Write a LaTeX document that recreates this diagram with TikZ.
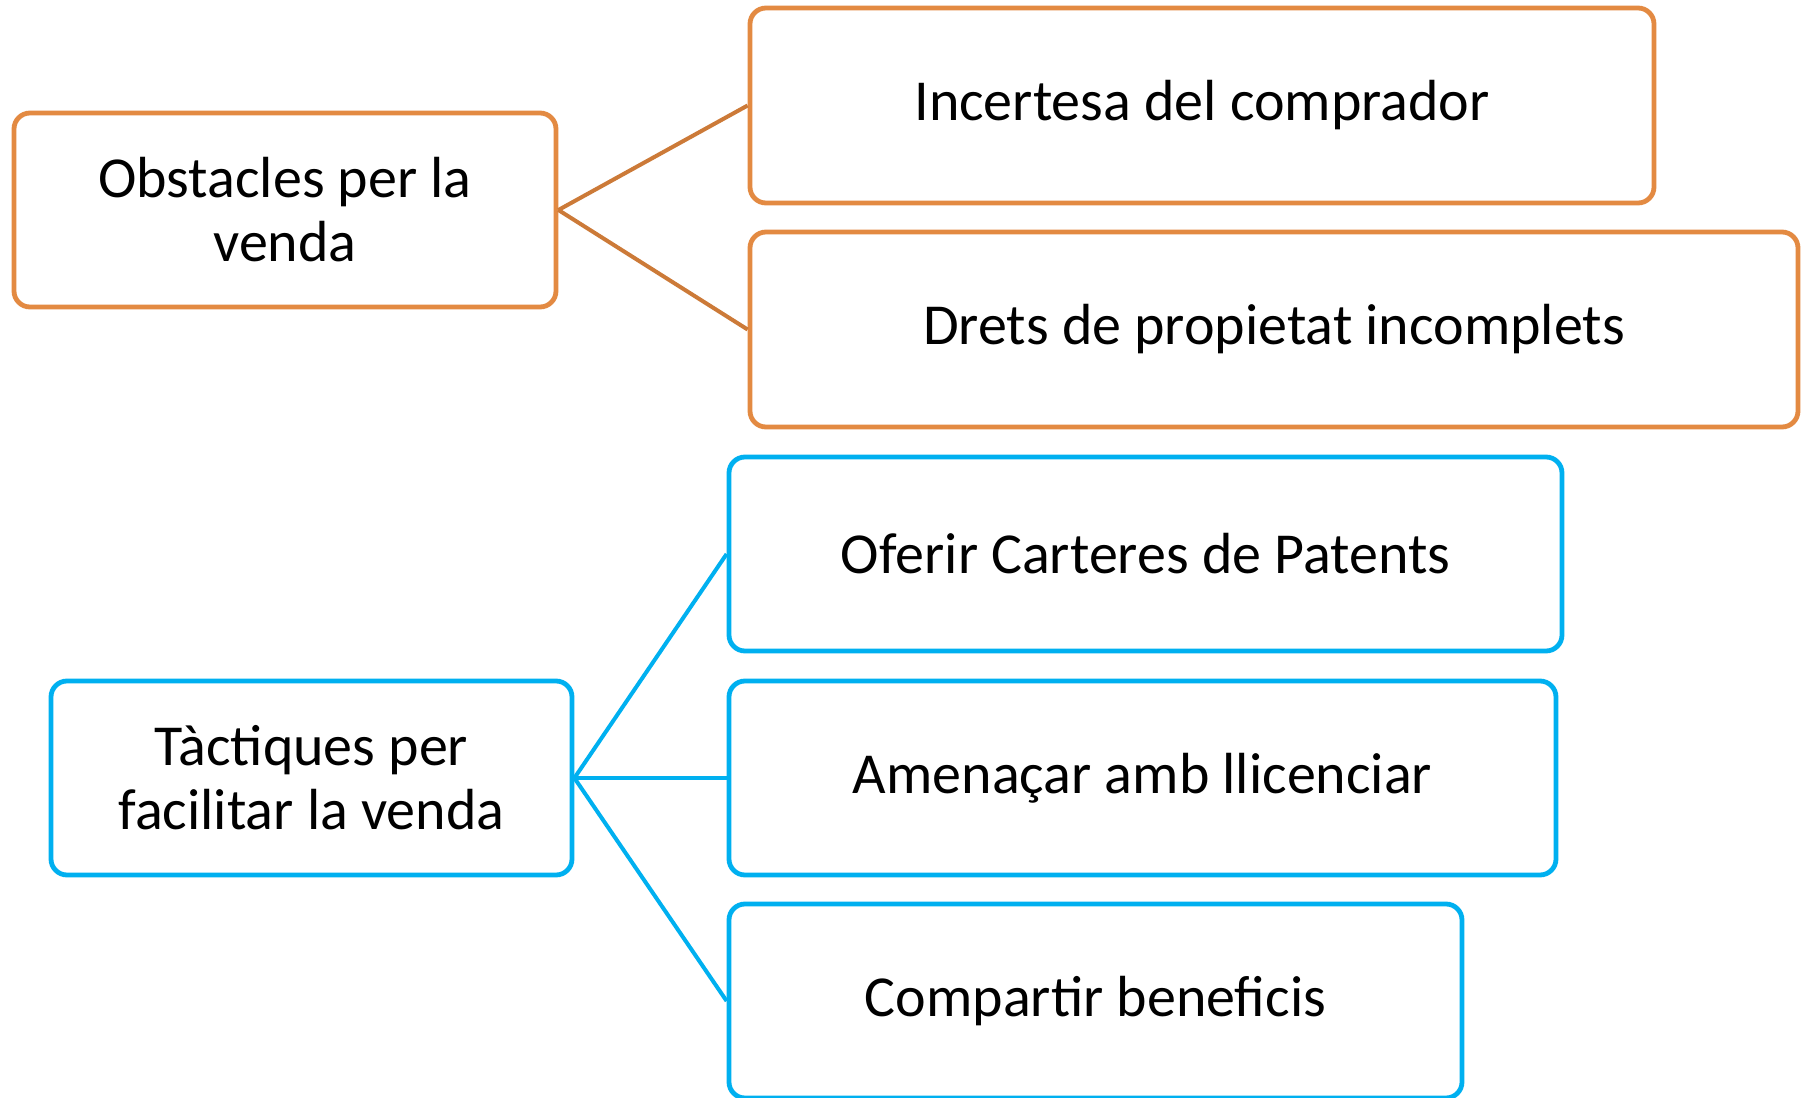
\documentclass[tikz,border=0pt]{standalone}
\usepackage{fontspec}
\setmainfont{Carlito}
\definecolor{boxorange}{HTML}{E38A42}
\definecolor{lineorange}{HTML}{CC7A38}
\definecolor{boxblue}{HTML}{00B0F0}
\begin{document}
\begin{tikzpicture}[x=0.5pt,y=-0.5pt,
  base/.style={rounded corners=8pt, line width=2.4pt, fill=white, align=center,
    inner sep=0pt, font=\fontsize{29}{32}\selectfont, text=black},
  obox/.style={base, draw=boxorange},
  bbox/.style={base, draw=boxblue},
  oline/.style={draw=lineorange, line width=2pt},
  bline/.style={draw=boxblue, line width=2pt}]
\useasboundingbox (0,0) rectangle (1801,1098);
\fill[white] (0,0) rectangle (1801,1098);
\node[obox, minimum width=271pt, minimum height=97pt] (obst) at (285,210) {Obstacles per la\\venda};
\node[obox, minimum width=452pt, minimum height=97.5pt] (inc) at (1202,105.5) {Incertesa del comprador};
\node[obox, minimum width=524pt, minimum height=97.5pt] (drets) at (1274,329.5) {Drets de propietat incomplets};
\node[bbox, minimum width=260.5pt, minimum height=97pt] (tact) at (311.5,778) {Tàctiques per\\facilitar la venda};
\node[bbox, minimum width=416.5pt, minimum height=97pt] (ofer) at (1145.5,554) {Oferir Carteres de Patents};
\node[bbox, minimum width=413.5pt, minimum height=97pt] (amen) at (1142.5,778) {Amenaçar amb llicenciar};
\node[bbox, minimum width=366.5pt, minimum height=97pt] (comp) at (1095.5,1001) {Compartir beneficis};
\draw[oline] (obst.east) -- (inc.west);
\draw[oline] (obst.east) -- (drets.west);
\draw[bline] (tact.east) -- (ofer.west);
\draw[bline] (tact.east) -- (amen.west);
\draw[bline] (tact.east) -- (comp.west);
\end{tikzpicture}
\end{document}
